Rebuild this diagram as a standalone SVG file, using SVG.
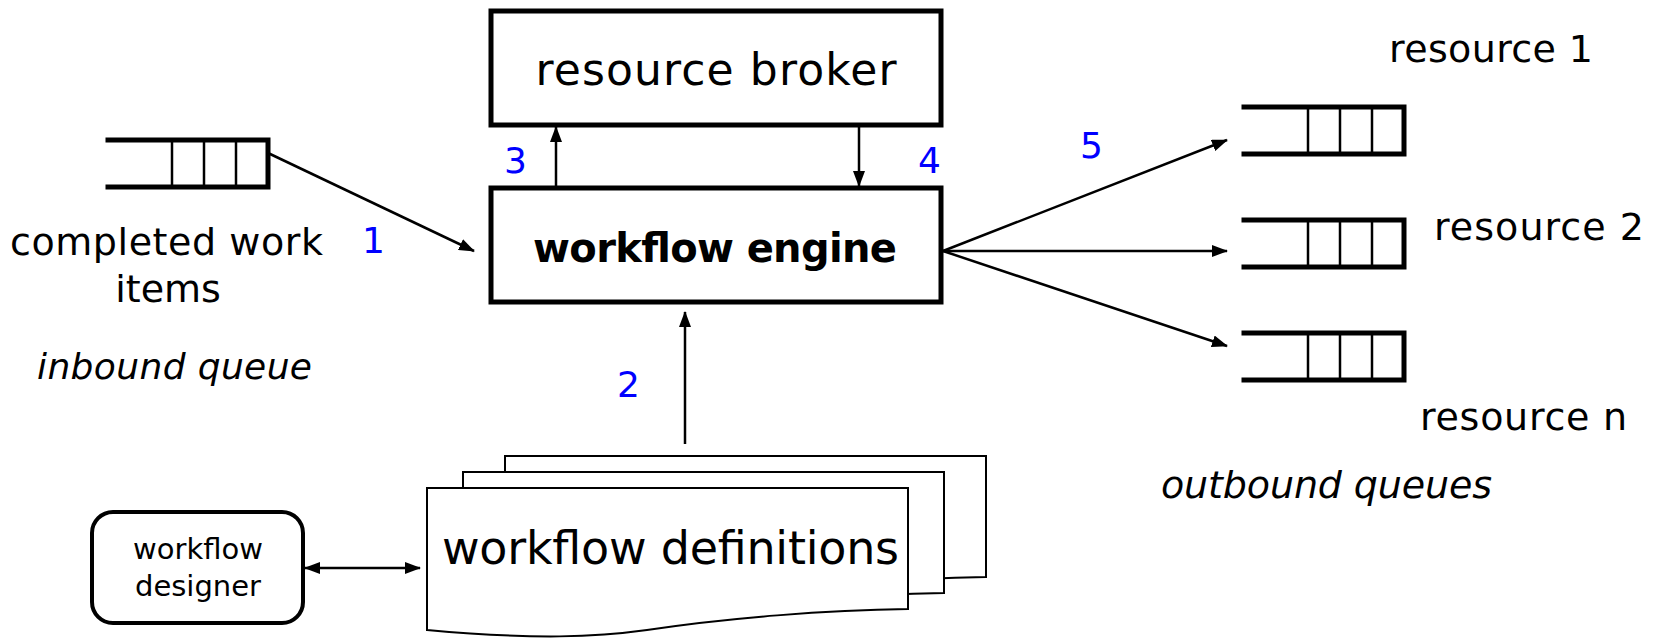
<svg xmlns="http://www.w3.org/2000/svg" width="1659" height="639" viewBox="0 0 1659 639">
<style>
.box{fill:#fff;stroke:#000;stroke-width:5}
.qline{stroke:#000;stroke-width:5;fill:none;stroke-linecap:square}
.qdiv{stroke:#000;stroke-width:2.5}
.doc{fill:#fff;stroke:#000;stroke-width:2}
.conn{stroke:#000;stroke-width:2.5;fill:none}
.t{font-family:"DejaVu Sans","Liberation Sans",sans-serif;fill:#000}
.n{font-family:"DejaVu Sans","Liberation Sans",sans-serif;fill:#0000ff;font-size:36px}
</style>
<defs>
<marker id="ah" viewBox="0 0 16 12" refX="15" refY="6" markerWidth="16" markerHeight="12" markerUnits="userSpaceOnUse" orient="auto-start-reverse">
<path d="M0,0 L16,6 L0,12 Z" fill="#000"/>
</marker>
<g id="queue">
<path class="qline" d="M0,0 H160 V47 H0"/>
<line class="qdiv" x1="64" y1="0" x2="64" y2="47"/>
<line class="qdiv" x1="96" y1="0" x2="96" y2="47"/>
<line class="qdiv" x1="128" y1="0" x2="128" y2="47"/>
</g>
<path id="docshape" d="M0,0 H481 V121 C400,122 300,130 220,142 C170,149 110,152 0,142 Z"/>
</defs>

<g id="inbound-queue">
<use href="#queue" x="108" y="140"/>
<text class="t" x="10" y="255" font-size="38" textLength="313">completed work</text>
<text class="t" x="168" y="302" font-size="38" text-anchor="middle">items</text>
<text class="t" x="37" y="379" font-size="36" font-style="italic" textLength="275">inbound queue</text>
</g>

<g id="resource-broker">
<rect class="box" x="491" y="11" width="450" height="114"/>
<text class="t" x="716" y="85" font-size="44" text-anchor="middle" textLength="361">resource broker</text>
</g>

<g id="workflow-engine">
<rect class="box" x="491" y="188" width="450" height="114"/>
<text class="t" x="715" y="262" font-size="40" font-weight="bold" text-anchor="middle" textLength="364">workflow engine</text>
</g>

<g id="outbound-queue-1">
<use href="#queue" x="1244" y="107"/>
<text class="t" x="1389" y="62" font-size="38" textLength="204">resource 1</text>
</g>
<g id="outbound-queue-2">
<use href="#queue" x="1244" y="220"/>
<text class="t" x="1434" y="240" font-size="38" textLength="210">resource 2</text>
</g>
<g id="outbound-queue-n">
<use href="#queue" x="1244" y="333"/>
<text class="t" x="1420" y="430" font-size="38" textLength="207">resource n</text>
</g>
<text class="t" x="1161" y="498" font-size="38" font-style="italic" textLength="331">outbound queues</text>

<g id="workflow-definitions">
<use href="#docshape" class="doc" x="505" y="456"/>
<use href="#docshape" class="doc" x="463" y="472"/>
<use href="#docshape" class="doc" x="427" y="488"/>
<text class="t" x="442" y="564" font-size="46" textLength="457">workflow definitions</text>
</g>

<g id="workflow-designer">
<rect x="92" y="512" width="211" height="111" rx="21" fill="#fff" stroke="#000" stroke-width="4"/>
<text class="t" x="198" y="559" font-size="29" text-anchor="middle">workflow</text>
<text class="t" x="198" y="596" font-size="29" text-anchor="middle">designer</text>
</g>

<g id="connectors">
<line class="conn" x1="268" y1="153" x2="474" y2="251" marker-end="url(#ah)"/>
<line class="conn" x1="556" y1="188" x2="556" y2="127" marker-end="url(#ah)"/>
<line class="conn" x1="859" y1="125" x2="859" y2="186" marker-end="url(#ah)"/>
<line class="conn" x1="685" y1="444" x2="685" y2="312" marker-end="url(#ah)"/>
<line class="conn" x1="943" y1="251" x2="1227" y2="140" marker-end="url(#ah)"/>
<line class="conn" x1="943" y1="251" x2="1227" y2="251" marker-end="url(#ah)"/>
<line class="conn" x1="943" y1="251" x2="1227" y2="346" marker-end="url(#ah)"/>
<line class="conn" x1="305" y1="568" x2="420" y2="568" marker-start="url(#ah)" marker-end="url(#ah)"/>
<text class="n" x="362" y="253">1</text>
<text class="n" x="617" y="397">2</text>
<text class="n" x="504" y="173">3</text>
<text class="n" x="918" y="173">4</text>
<text class="n" x="1080" y="158">5</text>
</g>
</svg>
